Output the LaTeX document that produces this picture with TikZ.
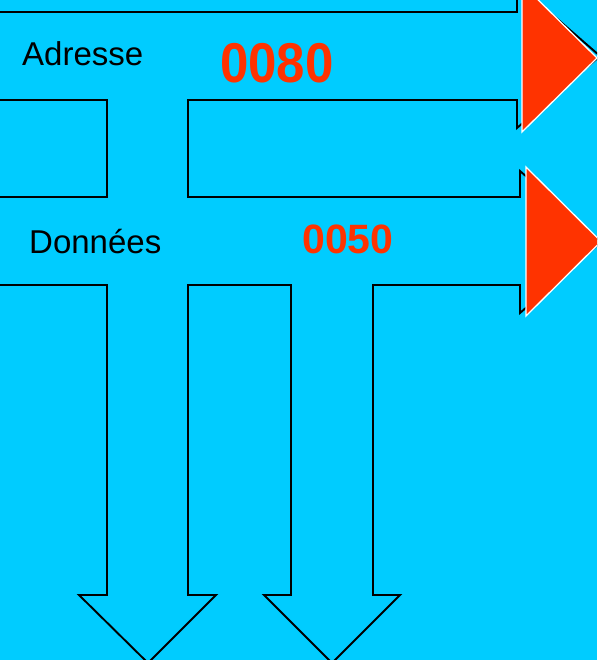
\documentclass[tikz,border=0pt]{standalone}
\usepackage{fontspec}
\setmainfont{Liberation Sans}
\usepackage{xcolor}
\definecolor{busblue}{HTML}{00CCFF}
\definecolor{valred}{HTML}{FF3300}
\usetikzlibrary{positioning}

\begin{document}
\begin{tikzpicture}[x=1pt, y=-1pt, line join=miter,
    bus/.style={draw=black, line width=1.9pt},
    head/.style={fill=valred, draw=white, line width=1.3pt},
    label/.style={inner sep=0pt, anchor=base west, font=\fontsize{33}{36}\selectfont},
    value/.style={inner sep=0pt, anchor=base west, text=valred}]
    % Background
    \fill [busblue] (0,0) rectangle (597,660);
    \useasboundingbox (0,0) rectangle (597,660);
    \clip (0,0) rectangle (597,660);
    % Address bus and link down to data bus
    \draw [bus] (-5,12) -- (517,12) -- (517,-16) -- (600,56) -- (517,128) -- (517,100)
        -- (188,100) -- (188,197) -- (520,197) -- (520,171) -- (601,242) -- (520,313) -- (520,285)
        -- (373,285) -- (373,595) -- (400,595) -- (332,663) -- (264,595) -- (291,595) -- (291,285)
        -- (188,285) -- (188,595) -- (216,595) -- (148,663) -- (79,595) -- (107,595) -- (107,285)
        -- (-5,285);
    \draw [bus] (-5,197) -- (107,197) -- (107,100) -- (-5,100);
    % Arrow heads
    \draw [head] (522,-16) -- (597,58) -- (522,132) -- cycle;
    \draw [head] (526,167) -- (601,241.5) -- (526,316) -- cycle;
    % Labels
    \node [label] (adr) at (22,66) {Adresse};
    \node [value, font=\bfseries\fontsize{51}{56}\selectfont] (adrval) at (220,83) {\scalebox{1}[1.1]{0080}};
    \node [label] (don) at (29,253) {Données};
    \node [value, font=\bfseries\fontsize{41}{44}\selectfont] (donval) at (302,253) {0050};
\end{tikzpicture}
\end{document}
